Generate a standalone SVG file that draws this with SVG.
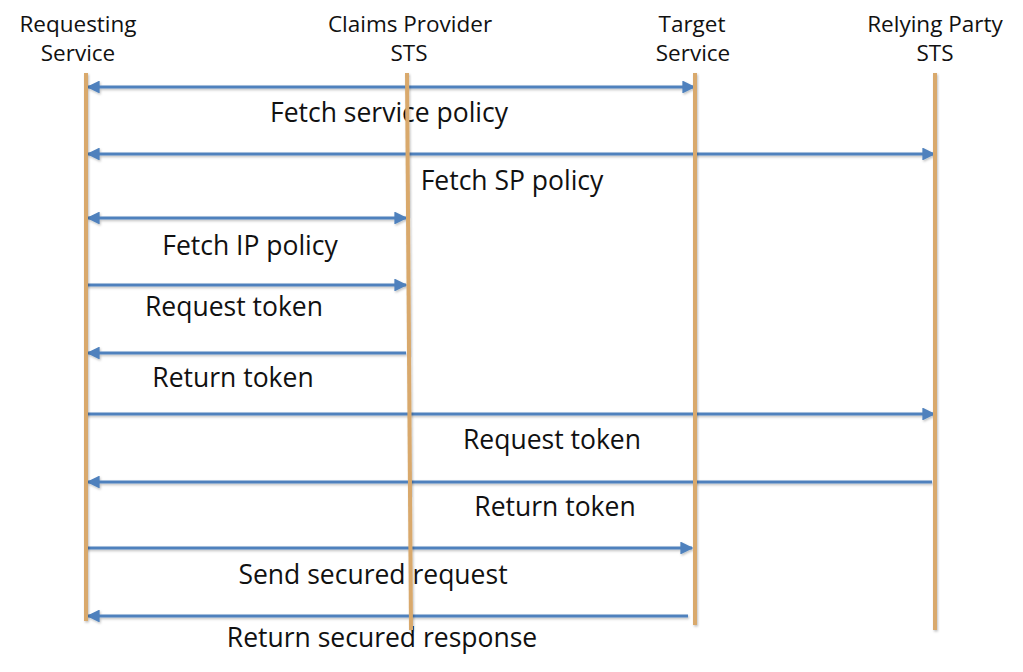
<svg xmlns="http://www.w3.org/2000/svg" width="1023" height="672" viewBox="0 0 1023 672">
  <defs>
    <style>
      .hdr { font-family: "Open Sans", "Noto Sans", "Liberation Sans", sans-serif; font-size: 22.5px; fill: #111; text-anchor: middle; }
      .lbl { font-family: "Open Sans", "Noto Sans", "Liberation Sans", sans-serif; font-size: 26.5px; fill: #111; text-anchor: middle; }
      .life { stroke: #D9A96C; stroke-width: 4; fill: none; }
      .msg { stroke: #4F81BD; stroke-width: 3; fill: none; }
    </style>
    <filter id="shadow" filterUnits="userSpaceOnUse" x="0" y="0" width="1023" height="672">
      <feDropShadow dx="1" dy="1.5" stdDeviation="0.8" flood-color="#000" flood-opacity="0.25"/>
    </filter>
    <marker id="head" viewBox="0 0 10 10" refX="9" refY="5" markerWidth="4.3" markerHeight="4.3" orient="auto-start-reverse" markerUnits="strokeWidth">
      <path d="M0,0 L10,5 L0,10 z" fill="#4F81BD"/>
    </marker>
  </defs>
  <rect width="1023" height="672" fill="#fff"/>

  <!-- messages between the lifelines -->
  <g id="connectors" filter="url(#shadow)">
    <line class="msg" x1="88" y1="87" x2="694" y2="87" marker-start="url(#head)" marker-end="url(#head)"/>
    <line class="msg" x1="88" y1="154" x2="934" y2="154" marker-start="url(#head)" marker-end="url(#head)"/>
    <line class="msg" x1="88" y1="218" x2="406" y2="218" marker-start="url(#head)" marker-end="url(#head)"/>
    <line class="msg" x1="86" y1="285" x2="406" y2="285" marker-end="url(#head)"/>
    <line class="msg" x1="406" y1="353" x2="88" y2="353" marker-end="url(#head)"/>
    <line class="msg" x1="86" y1="414" x2="934" y2="414" marker-end="url(#head)"/>
    <line class="msg" x1="932" y1="482" x2="88" y2="482" marker-end="url(#head)"/>
    <line class="msg" x1="86" y1="548" x2="692" y2="548" marker-end="url(#head)"/>
    <line class="msg" x1="688" y1="616" x2="88" y2="616" marker-end="url(#head)"/>
  </g>

  <!-- message labels -->
  <g id="labels">
    <text class="lbl" x="389" y="122">Fetch service policy</text>
    <text class="lbl" x="512" y="190">Fetch SP policy</text>
    <text class="lbl" x="250" y="255">Fetch IP policy</text>
    <text class="lbl" x="234" y="316">Request token</text>
    <text class="lbl" x="233" y="387">Return token</text>
    <text class="lbl" x="552" y="449">Request token</text>
    <text class="lbl" x="555" y="516">Return token</text>
    <text class="lbl" x="373" y="584">Send secured request</text>
    <text class="lbl" x="382" y="647">Return secured response</text>
  </g>

  <!-- participants with their lifelines -->
  <g id="requesting-service">
    <text class="hdr" x="78" y="32">Requesting</text>
    <text class="hdr" x="78" y="61">Service</text>
    <line class="life" x1="86" y1="73" x2="86" y2="621" filter="url(#shadow)"/>
  </g>
  <g id="claims-provider-sts">
    <text class="hdr" x="410" y="32">Claims Provider</text>
    <text class="hdr" x="409" y="61">STS</text>
    <line class="life" x1="407" y1="73" x2="411" y2="630" filter="url(#shadow)"/>
  </g>
  <g id="target-service">
    <text class="hdr" x="692" y="32">Target</text>
    <text class="hdr" x="693" y="61">Service</text>
    <line class="life" x1="695" y1="73" x2="695" y2="625" filter="url(#shadow)"/>
  </g>
  <g id="relying-party-sts">
    <text class="hdr" x="935" y="32">Relying Party</text>
    <text class="hdr" x="935" y="61">STS</text>
    <line class="life" x1="935" y1="73" x2="935" y2="630" filter="url(#shadow)"/>
  </g>
</svg>
